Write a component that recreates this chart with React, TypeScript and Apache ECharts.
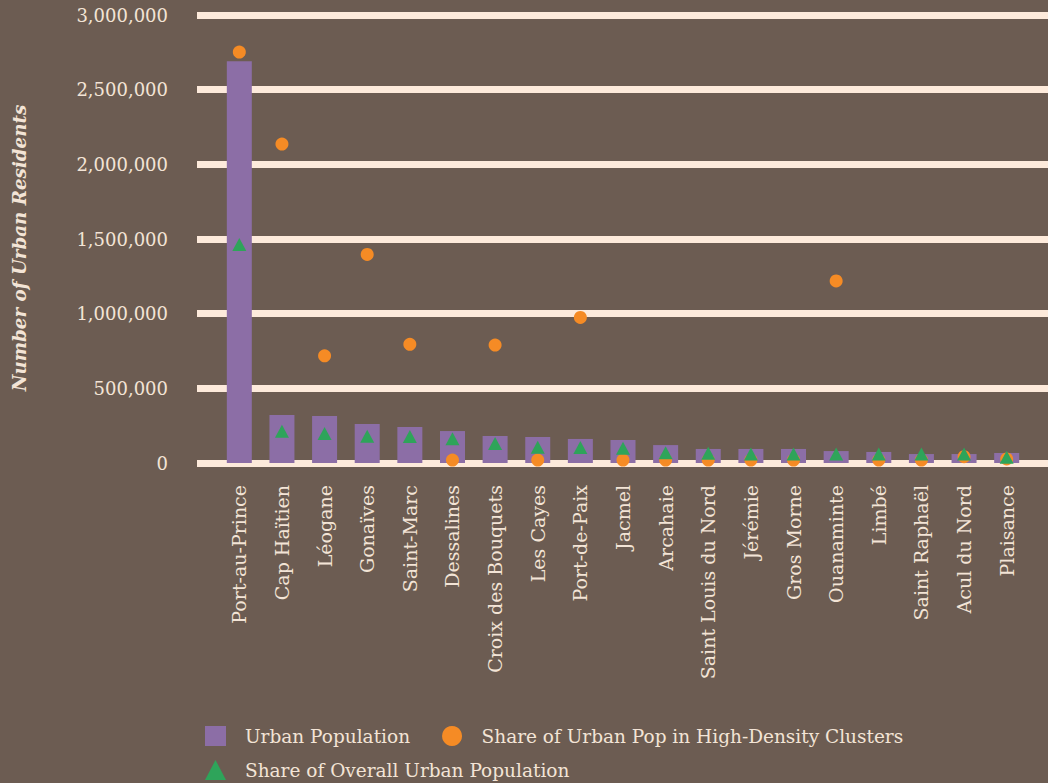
import React, { useEffect, useRef } from "react";
import * as echarts from "echarts";

const categories = [
  "Port-au-Prince", "Cap Haïtien", "Léogane", "Gonaïves", "Saint-Marc", "Dessalines",
  "Croix des Bouquets", "Les Cayes", "Port-de-Paix", "Jacmel", "Arcahaie",
  "Saint Louis du Nord", "Jérémie", "Gros Morne", "Ouanaminte", "Limbé",
  "Saint Raphaël", "Acul du Nord", "Plaisance",
];
const urbanPopulation = [
  2690000, 321000, 315000, 261000, 241000, 214000, 181000, 174000, 161000, 154000,
  120000, 94000, 94000, 94000, 80000, 74000, 60000, 60000, 67000,
];
const highDensityShare = [
  2752000, 2136000, 718000, 1397000, 795000, 20000, 790000, 20000, 975000, 20000,
  20000, 20000, 20000, 20000, 1219000, 20000, 20000, 42000, 27000,
];
const overallShare = [
  1464000, 213000, 198000, 179000, 177000, 162000, 131000, 105000, 104000, 99000,
  68000, 65000, 61000, 61000, 61000, 61000, 61000, 61000, 38000,
];
const yTicks = [0, 500000, 1000000, 1500000, 2000000, 2500000, 3000000];

const BG = "#6C5C52";
const CREAM = "#FDEADB";
const TEXT = "#F3E4D6";
const PURPLE = "#8C6EA6";
const ORANGE = "#F58B25";
const GREEN = "#2EA45A";
const FONT = "DejaVu Serif";

export default function App() {
  const ref = useRef<HTMLDivElement>(null);
  useEffect(() => {
    document.body.style.margin = "0";
    const chart = echarts.init(ref.current!, undefined, { renderer: "svg" });
    const yMax = yTicks[yTicks.length - 1];
    const legendText = { color: TEXT, fontFamily: FONT, fontSize: 18.5, padding: [0, 0, 0, 14] };
    chart.setOption({
      animation: false,
      backgroundColor: BG,
      grid: [
        { left: 197, right: 0, top: 15, bottom: 320, outerBoundsMode: "none", containLabel: false },
        { left: 218, right: 20, top: 15, bottom: 320, outerBoundsMode: "none", containLabel: false },
      ],
      legend: [
        {
          left: 200,
          top: 721,
          itemWidth: 21,
          itemHeight: 20,
          itemGap: 32,
          textStyle: legendText,
          data: [
            { name: "Urban Population", icon: "rect" },
            { name: "Share of Urban Pop in High-Density Clusters", icon: "circle" },
          ],
        },
        {
          left: 200,
          top: 755,
          itemWidth: 21,
          itemHeight: 20,
          textStyle: legendText,
          data: [{ name: "Share of Overall Urban Population", icon: "triangle" }],
        },
      ],
      xAxis: [
        {
          type: "category",
          gridIndex: 0,
          data: categories,
          axisLine: { show: false },
          axisTick: { show: false },
          axisLabel: { show: false },
          splitLine: { show: false },
        },
        {
          type: "category",
          gridIndex: 1,
          data: categories,
          axisLine: { show: false },
          axisTick: { show: false },
          splitLine: { show: false },
          axisLabel: {
            rotate: 90,
            margin: 22,
            color: TEXT,
            fontFamily: FONT,
            fontSize: 19,
            interval: 0,
          },
        },
      ],
      yAxis: [
        {
          type: "value",
          gridIndex: 0,
          min: 0,
          max: yMax,
          interval: 500000,
          name: "Number of Urban Residents",
          nameLocation: "middle",
          nameGap: 169,
          nameTextStyle: {
            color: TEXT,
            fontFamily: FONT,
            fontStyle: "italic",
            fontWeight: "bold",
            fontSize: 18.3,
            padding: [0, 18, 0, 0],
          },
          axisLine: { show: false },
          axisTick: { show: false },
          axisLabel: {
            margin: 29,
            color: TEXT,
            fontFamily: FONT,
            fontSize: 18,
            formatter: (v: number) => v.toLocaleString("en-US"),
          },
          splitLine: {
            show: true,
            lineStyle: { color: CREAM, width: 7, type: "solid" },
          },
        },
        {
          type: "value",
          gridIndex: 1,
          min: 0,
          max: yMax,
          axisLine: { show: false },
          axisTick: { show: false },
          axisLabel: { show: false },
          splitLine: { show: false },
        },
      ],
      series: [
        {
          name: "Urban Population",
          type: "bar",
          xAxisIndex: 1,
          yAxisIndex: 1,
          data: urbanPopulation,
          barWidth: 25,
          itemStyle: { color: PURPLE },
        },
        {
          name: "Share of Urban Pop in High-Density Clusters",
          type: "scatter",
          xAxisIndex: 1,
          yAxisIndex: 1,
          data: highDensityShare,
          symbol: "circle",
          symbolSize: 13,
          itemStyle: { color: ORANGE, opacity: 1 },
        },
        {
          name: "Share of Overall Urban Population",
          type: "scatter",
          xAxisIndex: 1,
          yAxisIndex: 1,
          data: overallShare,
          symbol: "triangle",
          symbolSize: [14, 13],
          itemStyle: { color: GREEN, opacity: 1 },
        },
      ],
    });
    return () => chart.dispose();
  }, []);
  return <div ref={ref} style={{ position: "fixed", left: 0, top: 0, width: 1048, height: 783 }} />;
}
